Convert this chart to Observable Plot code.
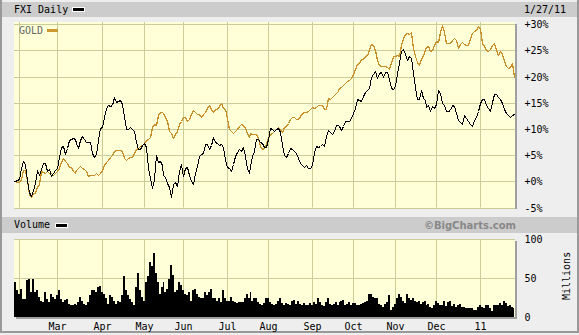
<!DOCTYPE html>
<html><head><meta charset="utf-8">
<script src="https://cdn.jsdelivr.net/npm/d3@7"></script>
<script src="https://cdn.jsdelivr.net/npm/@observablehq/plot@0.6"></script>
<style>
html,body{margin:0;padding:0;background:#eeeeee;}
#wrap{position:relative;width:579px;height:335px;overflow:hidden;font-family:"DejaVu Sans Mono",monospace;font-size:10px;color:#000;}
.abs{position:absolute;}
.band{position:absolute;background:#cccccc;}
.panel{position:absolute;background:#ffffd8;}
.shadow{position:absolute;background:#a0a0a0;}
.t{position:absolute;line-height:10px;white-space:nowrap;}
#wrap svg{position:absolute;left:0;top:0;}
</style></head><body>
<div id="wrap">
  <div class="abs" style="left:0;top:0;width:579px;height:333px;box-sizing:border-box;border-left:2px solid #999;border-right:2px solid #999;border-bottom:2px solid #999;"></div>
  <div class="band" style="left:2px;top:2px;width:575px;height:15px;"></div>
  <div class="band" style="left:2px;top:217px;width:575px;height:16px;"></div>
  <div class="shadow" style="left:16px;top:24px;width:501px;height:185px;"></div>
  <div class="panel" style="left:14px;top:22px;width:501px;height:185.5px;"></div>
  <div class="shadow" style="left:16px;top:241px;width:501px;height:78px;"></div>
  <div class="panel" style="left:14px;top:239px;width:501px;height:78px;"></div>
</div>
<script>
// Daily % change since 1/27/10, one value per trading day (index 0 .. 253)
const fxi = [
 0,0.1,0.3,0.5,2.5,3.8,3.4,0.3,-2.0,-2.8,
 -1.6,-0.4,2.2,1.2,2.4,3.5,3.5,1.9,2.3,1.1,
 1.6,2.2,2.6,4.6,6.5,6.8,5.2,6.4,7.8,8.1,
 8.3,8.0,7.4,6.4,7.9,8.6,8.1,7.5,7.5,7.5,
 5.5,4.7,5.3,7.9,10.2,10.4,12.2,14.0,14.6,14.3,
 14.5,16.1,15.2,15.3,15.6,14.7,12.5,10.0,10.0,10.3,
 10.0,9.7,7.5,6.2,6.2,7.0,7.3,6.5,2.5,0.6,
 -1.2,0.5,5.0,3.6,3.8,3.2,1.2,0.9,-0.3,-1.0,
 -3.0,-0.6,-0.1,-0.8,2.0,3.3,1.0,2.5,2.8,1.3,
 0.1,-0.5,1.6,3.0,4.8,5.2,5.4,7.2,7.2,6.2,
 7.0,8.5,7.6,7.3,7.0,7.2,6.6,4.0,2.8,2.5,
 2.0,3.3,4.8,5.6,6.2,5.7,6.6,4.8,2.6,1.6,
 3.0,4.8,5.8,8.0,8.0,7.6,7.3,6.6,6.5,8.0,
 10.1,10.0,9.7,9.9,10.1,9.5,7.0,5.0,4.6,5.5,
 6.3,6.1,5.7,5.4,4.4,3.5,3.1,2.7,3.2,2.6,
 2.6,3.2,5.6,6.7,6.5,6.8,7.1,6.8,8.6,9.8,
 9.4,9.1,9.7,10.8,10.7,10.6,9.8,10.5,11.6,11.6,
 11.6,12.0,13.0,14.0,15.8,15.6,15.4,16.2,17.1,17.4,
 17.8,20.0,20.4,21.0,19.8,20.6,20.8,19.9,20.9,20.9,
 19.6,17.9,17.7,18.2,20.6,22.6,24.9,25.3,24.4,23.2,
 24.0,23.5,20.6,18.1,15.8,15.7,17.4,16.0,15.6,14.2,
 14.6,13.5,14.3,14.0,14.8,17.5,16.8,15.0,14.5,13.5,
 13.5,13.7,14.5,14.4,13.0,11.8,11.3,10.9,12.7,12.0,
 11.5,11.0,10.5,11.7,12.2,13.5,15.0,15.8,15.7,14.6,
 14.0,13.5,15.1,16.6,16.6,16.1,15.8,15.0,13.8,13.0,
 12.7,12.3,12.6,12.9
];
const gold = [
 0,0,-0.1,-0.2,0.5,2.2,2.1,0.2,-2.5,-3.0,
 -2.3,-2.3,-1.0,-0.5,2.0,1.7,1.5,2.0,1.6,1.6,
 1.3,1.6,2.0,2.6,3.7,4.4,3.8,3.5,2.8,2.7,
 2.0,1.6,2.1,2.6,2.9,2.6,2.3,2.0,1.0,1.2,
 1.2,1.3,1.5,1.3,1.5,2.2,3.1,3.7,4.1,4.6,
 5.1,5.7,5.9,5.9,6.0,5.8,4.5,4.1,4.5,4.6,
 4.6,5.5,6.1,6.3,6.7,6.9,7.3,7.9,8.1,8.5,
 10.3,10.9,10.7,12.6,13.3,13.3,13.1,12.2,11.6,9.7,
 9.2,8.3,9.0,9.6,11.0,11.5,12.2,12.3,11.5,11.9,
 12.8,13.6,13.3,12.8,12.8,12.3,12.9,13.3,14.0,14.5,
 13.9,13.2,13.8,13.8,14.3,15.0,14.0,13.8,12.0,10.0,
 9.7,9.2,9.6,10.0,10.5,11.0,10.7,10.2,9.3,8.4,
 9.2,9.0,9.1,9.0,8.2,6.8,6.1,6.3,7.2,8.3,
 9.1,9.3,9.6,9.9,10.4,9.9,9.5,10.3,10.6,11.2,
 11.9,12.3,12.3,11.9,11.9,12.4,13.1,13.2,13.2,13.4,
 13.9,14.1,14.0,14.2,14.6,14.5,14.6,13.8,13.9,15.9,
 15.8,16.1,16.5,16.8,17.2,17.8,18.1,18.3,18.7,19.2,
 19.3,19.8,20.4,21.4,22.4,22.6,23.3,23.4,23.9,24.2,
 25.0,26.2,26.0,25.0,23.2,22.2,22.0,22.1,22.0,21.8,
 21.4,22.5,24.0,24.0,24.1,24.0,26.1,27.4,28.2,28.4,
 28.1,28.6,25.5,23.9,22.8,22.2,23.3,24.2,25.0,25.7,
 25.9,24.8,25.1,26.1,26.8,26.6,28.6,29.8,28.6,26.5,
 26.5,26.4,26.9,27.3,27.0,25.5,26.2,26.6,26.3,26.1,
 26.1,27.3,28.4,28.7,28.8,29.6,29.0,26.5,25.8,25.0,
 24.8,25.2,26.0,26.4,25.0,24.2,24.9,24.4,23.0,22.1,
 21.7,21.8,22.5,20.0
];
// FXI daily volume, millions of shares
const volume = [
 40,45,34,30,36,23,23,47,49,32,
 49,32,34,26,21,19,32,23,19,30,
 26,23,28,34,23,19,22,23,17,16,
 16,17,16,19,26,21,17,15,19,28,
 34,35,32,38,40,32,30,25,17,28,
 26,21,17,21,19,28,52,34,28,23,
 19,15,39,56,34,26,21,45,52,71,
 65,82,56,45,30,39,45,32,36,49,
 67,54,32,34,45,41,34,30,28,32,
 21,34,36,30,26,24,25,32,28,32,
 36,24,25,21,24,19,34,25,21,21,
 26,21,19,18,19,19,19,24,30,24,
 32,21,24,25,19,17,16,18,24,25,
 19,17,16,17,21,25,18,15,18,17,
 15,20,22,17,20,17,15,18,16,15,
 18,16,19,17,25,19,15,14,19,24,
 17,16,17,19,16,19,20,22,16,17,
 19,16,18,18,15,15,17,18,19,21,
 29,29,26,25,24,17,15,13,17,19,
 28,9,13,17,24,30,26,21,18,30,
 25,22,25,21,19,21,17,19,21,15,
 17,13,12,16,20,18,15,15,20,14,
 19,20,14,17,13,15,17,13,13,12,
 12,11,12,9,9,13,15,13,12,15,
 15,11,8,15,16,15,18,16,21,18,
 14,15,13,12
];
// trading-day index of each month start (Feb 1 .. Jan 3)
const gridDays = [3,22,45,66,86,108,129,151,172,193,214,236];
const monthDays = [22,45,66,86,108,129,151,172,193,214,236];
const monthLabels = ["Mar","Apr","May","Jun","Jul","Aug","Sep","Oct","Nov","Dec","11"];
const pctTicks = [-5,0,5,10,15,20,25,30];
const pctLabels = ["-5%","+0%","+5%","+10%","+15%","+20%","+25%","+30%"];
const volTicks = [0,50,100];
const volLabels = ["0","50","100"];

const prices = fxi.map((v,i)=>({day:i, fxi:v, gold:gold[i]}));
const vols = volume.map((v,i)=>({day:i, v}));

const grid = "#cccc99";
const style = {background:"transparent", overflow:"visible", fontFamily:"DejaVu Sans Mono, monospace", fontSize:"10px", color:"#000"};
const xOpt = {domain:[0,253], range:[13.2,513.5], round:true, axis:null, label:null};

const main = Plot.plot({
  width:579, height:216, marginLeft:14, marginRight:64, marginTop:22, marginBottom:8.5,
  style,
  x: xOpt,
  y: {domain:[-5,30], range:[207.5,24.2], round:true, axis:null, label:null},
  marks:[
    Plot.ruleX(gridDays, {stroke:grid}),
    Plot.ruleY(pctTicks, {stroke:grid}),
    Plot.line(prices, {x:"day", y:"gold", stroke:"#c98f2a", strokeWidth:1.25, shapeRendering:"crispEdges", clip:true}),
    Plot.line(prices, {x:"day", y:"fxi", stroke:"#000000", strokeWidth:1, shapeRendering:"crispEdges", clip:true}),
    Plot.axisY(pctTicks, {anchor:"right", label:null, tickSize:0, tickPadding:9, fill:"#000",
      tickFormat: d => pctLabels[pctTicks.indexOf(d)]})
  ]
});

const vol = Plot.plot({
  width:579, height:335, marginLeft:14, marginRight:64, marginTop:239, marginBottom:18,
  style,
  x: xOpt,
  y: {domain:[0,100], round:true, axis:null, label:null},
  marks:[
    Plot.ruleX(gridDays, {stroke:grid}),
    Plot.ruleY([50,100], {stroke:grid}),
    Plot.areaY(vols, {x:"day", y:"v", curve:"step", fill:"#000", shapeRendering:"crispEdges", clip:true}),
    Plot.axisY(volTicks, {anchor:"right", label:null, tickSize:0, tickPadding:9, fill:"#000",
      tickFormat: d => volLabels[volTicks.indexOf(d)]}),
    Plot.axisX(monthDays, {anchor:"bottom", label:null, tickSize:0, tickPadding:5, fill:"#000",
      tickFormat: d => monthLabels[monthDays.indexOf(d)]})
  ]
});

const wrap = document.getElementById("wrap");
wrap.appendChild(main);
wrap.appendChild(vol);

function addText(txt, css){
  const d = document.createElement("div");
  d.className = "t";
  d.textContent = txt;
  Object.assign(d.style, css);
  wrap.appendChild(d);
  return d;
}
function addBox(css){
  const d = document.createElement("div");
  d.className = "abs";
  Object.assign(d.style, css);
  wrap.appendChild(d);
}
addText("FXI Daily", {left:"14px", top:"5px"});
addBox({left:"72px", top:"7px", width:"11px", height:"3px", background:"#000", border:"1px solid #fff"});
addText("1/27/11", {left:"524px", top:"4.5px"});
addText("GOLD", {left:"19px", top:"25.5px", color:"#666"});
addBox({left:"47px", top:"29px", width:"11px", height:"3px", background:"#cc9933"});
addText("Volume", {left:"14px", top:"220px"});
addBox({left:"55px", top:"223px", width:"11px", height:"3px", background:"#000", border:"1px solid #fff"});
addText("\u00A9BigCharts.com", {right:"63px", top:"220.5px", fontFamily:"DejaVu Sans, sans-serif", fontWeight:"bold", color:"#888"});
const m = addText("Millions", {left:"562px", top:"252px", transformOrigin:"0 0"});
m.style.transform = "rotate(-90deg) translate(-48px, 0)";
</script>
</body></html>
